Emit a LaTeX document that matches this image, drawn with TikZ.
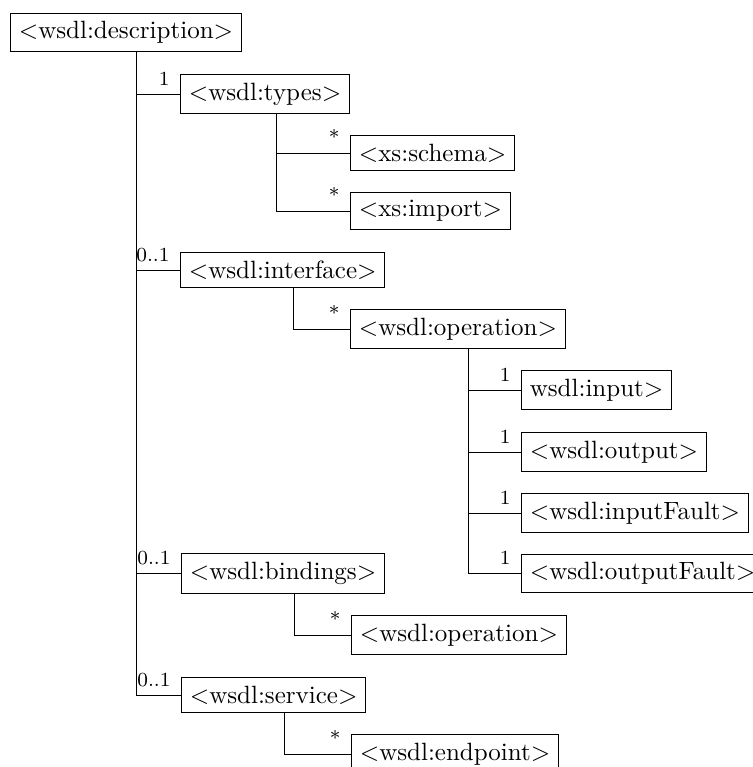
\documentclass[tikz,border=0pt]{standalone}
\begin{document}
\begin{tikzpicture}[x=0.4pt,y=-0.4pt,
  elem/.style={draw, anchor=west, inner sep=0.3333em, line width=0.4pt},
  mult/.style={font=\footnotesize, inner sep=0pt, anchor=base east},
  link/.style={line width=0.4pt}]
\useasboundingbox (0,0) rectangle (753,767);
\clip (0,0) rectangle (753,767);

% element boxes
\node[elem] (desc) at (10,32.5) {$<$wsdl:description$>$};
\node[elem] (types) at (180,94) {$<$wsdl:types$>$};
\node[elem] (schema) at (350,153) {$<$xs:schema$>$};
\node[elem] (import) at (350,211) {$<$xs:import$>$};
\node[elem] (iface) at (180,270) {$<$wsdl:interface$>$};
\node[elem] (op) at (350,329) {$<$wsdl:operation$>$};
\node[elem] (in) at (521,390) {wsdl:input$>$};
\node[elem] (out) at (521,452) {$<$wsdl:output$>$};
\node[elem] (infault) at (521,513) {$<$wsdl:inputFault$>$};
\node[elem] (outfault) at (521,573.5) {$<$wsdl:outputFault$>$};
\node[elem] (bind) at (181,573.5) {$<$wsdl:bindings$>$};
\node[elem] (bop) at (351,635) {$<$wsdl:operation$>$};
\node[elem] (serv) at (181,695) {$<$wsdl:service$>$};
\node[elem] (endp) at (351,754) {$<$wsdl:endpoint$>$};

% trunk start points below each parent
\foreach \p in {desc,types,iface,op,bind,serv}
  \coordinate (\p-t) at ([xshift=4.4pt]\p.south);

% connectors
\foreach \p/\c in {desc/types,desc/iface,desc/bind,desc/serv,
                   types/schema,types/import,iface/op,
                   op/in,op/out,op/infault,op/outfault,
                   bind/bop,serv/endp}
  \draw[link] (\p-t) |- (\c.west);

% multiplicities
\foreach \c/\m in {types/1,schema/*,import/*,iface/0..1,op/*,
                   in/1,out/1,infault/1,outfault/1,
                   bind/0..1,bop/*,serv/0..1,endp/*}
  \node[mult] (m-\c) at ([xshift=-4pt,yshift=3.6pt]\c.west) {\m};
\end{tikzpicture}
\end{document}
